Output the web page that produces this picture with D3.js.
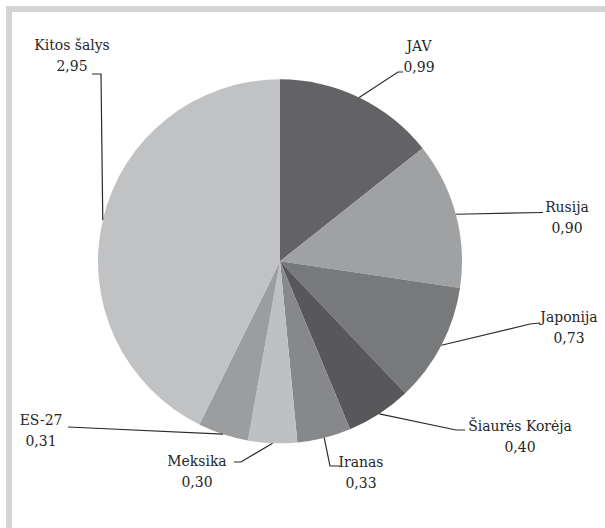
<!DOCTYPE html>
<html>
<head>
<meta charset="utf-8">
<script src="https://cdn.jsdelivr.net/npm/d3@7"></script>
<style>
  html, body { margin: 0; padding: 0; background: #ffffff; }
  svg { display: block; }
</style>
</head>
<body>
<svg id="chart" width="605" height="528"></svg>
<script>
// ---- data ----
const categories = ["JAV", "Rusija", "Japonija", "Šiaurės Korėja", "Iranas", "Meksika", "ES-27", "Kitos šalys"];
const values = [0.99, 0.90, 0.73, 0.40, 0.33, 0.30, 0.31, 2.95];
const valueLabels = ["0,99", "0,90", "0,73", "0,40", "0,33", "0,30", "0,31", "2,95"];

// ---- styling / layout (not data) ----
const colors = ["#636365", "#a0a1a3", "#78797b", "#58585a", "#87888a", "#bfc0c2", "#9c9d9f", "#c1c2c4"];
const labelLayout = [
  { x: 419, y: 51,  pts: [[403, 72], [398, 72]] },
  { x: 567, y: 212, pts: [[543, 212.5]] },
  { x: 569, y: 322, pts: [[540, 323], [530, 324]] },
  { x: 520, y: 431, pts: [[465, 430], [456, 430]] },
  { x: 361, y: 467, pts: [[340, 466], [330, 466]] },
  { x: 197, y: 466, pts: [[234, 462], [241, 462]] },
  { x: 41,  y: 425, pts: [[68, 427]] },
  { x: 72,  y: 50,  pts: [[92, 74], [101, 74]] }
];

const svg = d3.select("#chart");
const cx = 280, cy = 261.3, R = 182;

svg.append("rect").attr("x", 6).attr("y", 6).attr("width", 599).attr("height", 6).attr("fill", "#d3d4d6");
svg.append("rect").attr("x", 6).attr("y", 6).attr("width", 6).attr("height", 522).attr("fill", "#d3d4d6");

const data = categories.map((c, i) => ({ cat: c, value: values[i], label: valueLabels[i], i }));
const pie = d3.pie().value(d => d.value).sort(null).startAngle(0).endAngle(2 * Math.PI);
const arcs = pie(data);
const arc = d3.arc().innerRadius(0).outerRadius(R);

const g = svg.append("g").attr("transform", `translate(${cx},${cy})`);
g.selectAll("path.slice")
  .data(arcs)
  .join("path")
  .attr("class", "slice")
  .attr("d", arc)
  .attr("fill", d => colors[d.data.i]);

const line = d3.line();
arcs.forEach(a => {
  const mid = (a.startAngle + a.endAngle) / 2;
  const end = [cx + R * Math.sin(mid), cy - R * Math.cos(mid)];
  const pts = labelLayout[a.data.i].pts.concat([end]);
  svg.append("path")
    .attr("d", line(pts))
    .attr("fill", "none")
    .attr("stroke", "#2b2b2b")
    .attr("stroke-width", 1.2);
});

arcs.forEach(a => {
  const L = labelLayout[a.data.i];
  const t = svg.append("text")
    .attr("x", L.x).attr("y", L.y)
    .attr("text-anchor", "middle")
    .style("font-family", '"DejaVu Serif Condensed", "DejaVu Serif", serif')
    .style("font-stretch", "condensed")
    .style("font-size", "15.5px")
    .attr("fill", "#262626");
  t.append("tspan").attr("x", L.x).attr("y", L.y).text(a.data.cat);
  t.append("tspan").attr("x", L.x).attr("y", L.y + 20.5).text(a.data.label);
});
</script>
</body>
</html>
